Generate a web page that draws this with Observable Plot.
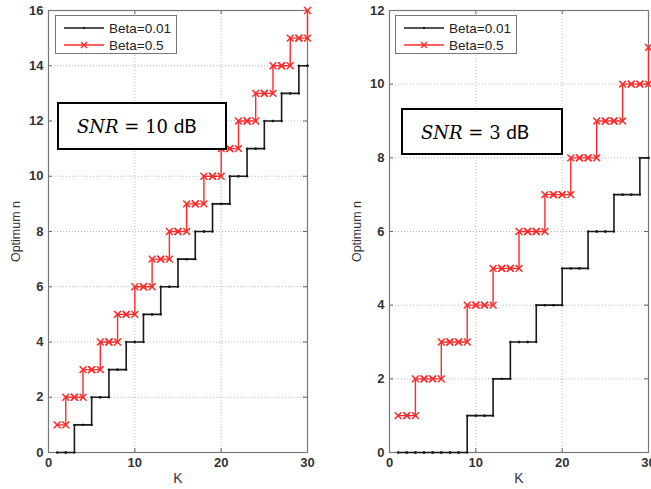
<!DOCTYPE html>
<html>
<head>
<meta charset="utf-8">
<script src="https://cdn.jsdelivr.net/npm/d3@7"></script>
<script src="https://cdn.jsdelivr.net/npm/@observablehq/plot@0.6"></script>
<style>
  html, body { margin: 0; padding: 0; background: #fff; }
  #wrap { position: relative; width: 651px; height: 489px; overflow: hidden; background: #fff; }
  .panel { position: absolute; top: 0; }
  .legend { position: absolute; width: 122px; height: 39px; border: 1px solid #777; background: #fff; box-sizing: border-box;
    font-family: "Liberation Sans", Arial, sans-serif; font-size: 13px; color: #222; }
  .snr { position: absolute; border: 2px solid #000; background: #fff; box-sizing: border-box; white-space: nowrap; }
  .snr span.t { position: absolute; left: 18px; top: 50%; transform: translateY(-52%); }
  .it { font-family: "DejaVu Serif", "Liberation Serif", serif; font-style: italic; font-size: 18px; }
  .m { font-family: "DejaVu Serif", "Liberation Serif", serif; font-size: 18px; }
  .db { font-family: Lato, "Open Sans", sans-serif; font-size: 19px; }
</style>
</head>
<body>
<div id="wrap"></div>
<script>
// ---- data ----
const K = [1,2,3,4,5,6,7,8,9,10,11,12,13,14,15,16,17,18,19,20,21,22,23,24,25,26,27,28,29,30];
// SNR = 10 dB
const snr10Beta001 = [0,0,1,1,2,2,3,3,4,4,5,5,6,6,7,7,8,8,9,9,10,10,11,11,12,12,13,13,14,14];
const snr10Beta05  = [1,2,2,3,3,4,4,5,5,6,6,7,7,8,8,9,9,10,10,11,11,12,12,13,13,14,14,15,15,16];
// SNR = 3 dB
const snr3Beta001  = [0,0,0,0,0,0,0,0,1,1,1,2,2,3,3,3,4,4,4,5,5,5,6,6,6,7,7,7,8,8];
const snr3Beta05   = [1,1,2,2,2,3,3,3,4,4,4,5,5,5,6,6,6,7,7,7,8,8,8,9,9,9,10,10,10,11];
const seriesNames = ["Beta=0.01", "Beta=0.5"];
const xTicks = [0, 10, 20, 30];
const yTicks10 = [0, 2, 4, 6, 8, 10, 12, 14, 16];
const yTicks3 = [0, 2, 4, 6, 8, 10, 12];
const panelTitles = ["10", "3"];

const BLACK = "#1a1a1a", RED = "#ff2a2a";

function rows(vals) { return K.map((k, i) => ({K: k, n: vals[i]})); }
// corner points produced by a stairs plot (x of next sample, current level)
function corners(vals) { return K.slice(1).map((k, i) => ({K: k, n: vals[i]})); }

function panel({width, marginLeft, marginRight, yMax, yTicks, black, red}) {
  const height = 489, marginTop = 10, marginBottom = 37;
  const ph = height - marginTop - marginBottom;
  const pw = width - marginLeft - marginRight;
  const grid = {stroke: "#b8b8b8", strokeOpacity: 1, strokeDasharray: "1,2"};
  const tk = {stroke: "#666", strokeWidth: 1};
  return Plot.plot({
    width, height, marginLeft, marginRight, marginTop, marginBottom,
    style: {fontFamily: "Liberation Sans, Arial, sans-serif", fontSize: "13px", color: "#333", background: "transparent", overflow: "visible"},
    x: {domain: [0, 30]},
    y: {domain: [0, yMax]},
    marks: [
      Plot.gridX(xTicks, grid),
      Plot.gridY(yTicks, grid),
      Plot.tickX(xTicks, {x: d => d, insetTop: ph - 4, ...tk}),
      Plot.tickX(xTicks, {x: d => d, insetBottom: ph - 4, ...tk}),
      Plot.tickY(yTicks, {y: d => d, insetRight: pw - 4, ...tk}),
      Plot.tickY(yTicks, {y: d => d, insetLeft: pw - 4, ...tk}),
      Plot.frame({stroke: "#777", strokeWidth: 1.2}),
      Plot.axisX(xTicks, {tickSize: 0, tickPadding: 5, label: null, fontWeight: "bold", fill: "#333"}),
      Plot.axisX([], {tickSize: 0, label: "K", labelAnchor: "center", labelArrow: "none", labelOffset: 30, fontSize: "14px", fill: "#333"}),
      Plot.axisY(yTicks, {tickSize: 0, tickPadding: 5, label: null, fontWeight: "bold", fill: "#333"}),
      Plot.axisY([], {tickSize: 0, label: "Optimum n", labelAnchor: "center", labelArrow: "none", labelOffset: 37, fontSize: "12.5px", fill: "#333"}),
      Plot.line(rows(black), {x: "K", y: "n", curve: "step-after", stroke: BLACK, strokeWidth: 1.6}),
      Plot.dot(rows(black), {x: "K", y: "n", r: 1.2, fill: BLACK}),
      Plot.dot(corners(black), {x: "K", y: "n", r: 1.2, fill: BLACK}),
      Plot.line(rows(red), {x: "K", y: "n", curve: "step-after", stroke: RED, strokeWidth: 1.4}),
      Plot.dot(rows(red), {x: "K", y: "n", symbol: "times", r: 3.2, stroke: RED, strokeWidth: 1.5}),
      Plot.dot(corners(red), {x: "K", y: "n", symbol: "times", r: 3.2, stroke: RED, strokeWidth: 1.5})
    ]
  });
}

const wrap = document.getElementById("wrap");

function place(el, left) { el.classList.add("panel"); el.style.left = left + "px"; wrap.appendChild(el); }

place(panel({width: 330, marginLeft: 48, marginRight: 23, yMax: 16, yTicks: yTicks10, black: snr10Beta001, red: snr10Beta05}), 0);
place(panel({width: 321, marginLeft: 59, marginRight: 3, yMax: 12, yTicks: yTicks3, black: snr3Beta001, red: snr3Beta05}), 330);

function legend(left, top) {
  const d = document.createElement("div");
  d.className = "legend";
  d.style.left = left + "px"; d.style.top = top + "px";
  d.innerHTML = `
  <svg width="120" height="37" style="position:absolute;left:0;top:0">
    <line x1="8" x2="48" y1="12" y2="12" stroke="${BLACK}" stroke-width="1.4"/>
    <circle cx="28" cy="12" r="1.2" fill="${BLACK}"/>
    <line x1="8" x2="48" y1="29" y2="29" stroke="${RED}" stroke-width="1.4"/>
    <path d="M25 26 L31 32 M31 26 L25 32" stroke="${RED}" stroke-width="1.4"/>
    <text x="53" y="16.5" fill="#222" font-size="13.5">${seriesNames[0]}</text>
    <text x="53" y="33.5" fill="#222" font-size="13.5">${seriesNames[1]}</text>
  </svg>`;
  wrap.appendChild(d);
}
legend(55, 15);
legend(395, 15);

function snrBox(left, top, w, h, val) {
  const d = document.createElement("div");
  d.className = "snr";
  Object.assign(d.style, {left: left + "px", top: top + "px", width: w + "px", height: h + "px"});
  d.innerHTML = `<span class="t"><span class="it">SNR</span><span class="m"> = ${val} </span><span class="db">dB</span></span>`;
  wrap.appendChild(d);
}
snrBox(57, 102, 170, 48, panelTitles[0]);
snrBox(401, 108, 162, 47, panelTitles[1]);
</script>
</body>
</html>
